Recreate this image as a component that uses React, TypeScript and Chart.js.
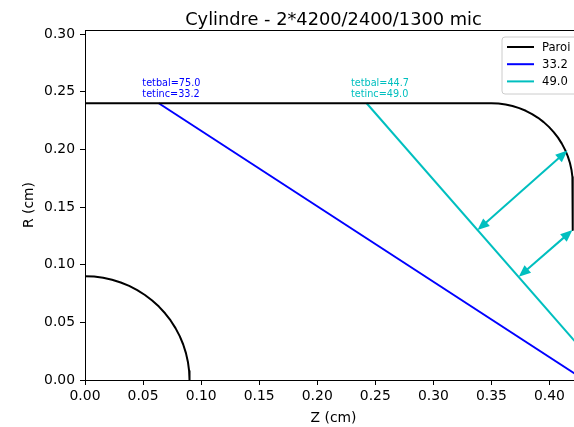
import React, { useEffect, useRef } from "react";
import { Chart, registerables } from "chart.js";

Chart.register(...registerables);

const TITLE = "Cylindre - 2*4200/2400/1300 mic";
const X_LABEL = "Z (cm)";
const Y_LABEL = "R (cm)";
const X_MIN = 0;
const X_MAX = 0.4211;
const Y_MIN = 0;
const Y_MAX = 0.3035;
const TICK_STEP = 0.05;

const seriesNames = ["Paroi", "33.2", "49.0"];
const seriesColors = ["#000000", "#0000ff", "#00bfbf"];

// Outer wall (Paroi): flat top, rounded corner, end face
const wallZ = [
  0, 0.35, 0.3561, 0.36216, 0.36812, 0.37394, 0.37958, 0.385, 0.39015, 0.395, 0.3995,
  0.40362, 0.40734, 0.41062, 0.41344, 0.41578, 0.41762, 0.41894, 0.41973, 0.42, 0.42,
];
const wallR = [
  0.24, 0.24, 0.23973, 0.23894, 0.23762, 0.23578, 0.23344, 0.23062, 0.22734, 0.22362, 0.2195,
  0.215, 0.21015, 0.205, 0.19958, 0.19394, 0.18812, 0.18216, 0.1761, 0.17, 0.13,
];

// Inner quarter circle (Paroi)
const innerZ = [
  0, 0.00784, 0.01563, 0.02329, 0.03078, 0.03804, 0.045, 0.05162, 0.05785, 0.06364,
  0.06894, 0.07372, 0.07794, 0.08157, 0.08457, 0.08693, 0.08863, 0.08966, 0.09,
];
const innerR = [
  0.09, 0.08966, 0.08863, 0.08693, 0.08457, 0.08157, 0.07794, 0.07372, 0.06894, 0.06364,
  0.05785, 0.05162, 0.045, 0.03804, 0.03078, 0.02329, 0.01563, 0.00784, 0,
];

// Ray 33.2
const ray1Z = [0.0635, 0.4302];
const ray1R = [0.24, 0];

// Ray 49.0
const ray2Z = [0.2425, 0.4511];
const ray2R = [0.24, 0];

// Double-headed arrows (cyan)
const arrowStartZ = [0.338, 0.3735];
const arrowStartR = [0.13, 0.0895];
const arrowEndZ = [0.4155, 0.4198];
const arrowEndR = [0.199, 0.13];

// Annotations
const noteZ = [0.0494, 0.229];
const noteR = [0.2454, 0.2454];
const noteLines = [
  ["tetbal=75.0", "tetinc=33.2"],
  ["tetbal=44.7", "tetinc=49.0"],
];
const noteColors = ["#0000ff", "#00bfbf"];

const FONT = "'DejaVu Sans', sans-serif";

function pts(zs: number[], rs: number[]) {
  return zs.map((z, i) => ({ x: z, y: rs[i] }));
}

const overlayPlugin = {
  id: "overlay",
  afterDraw(chart: any) {
    const ctx = chart.ctx as CanvasRenderingContext2D;
    const xs = chart.scales.x;
    const ys = chart.scales.y;
    const area = chart.chartArea;
    ctx.save();

    // top spine
    ctx.strokeStyle = "#000";
    ctx.lineWidth = 1;
    ctx.beginPath();
    ctx.moveTo(area.left, area.top + 0.5);
    ctx.lineTo(area.right, area.top + 0.5);
    ctx.stroke();

    // arrows
    ctx.save();
    ctx.beginPath();
    ctx.rect(area.left, area.top, area.right - area.left + 2, area.bottom - area.top);
    ctx.clip();
    ctx.strokeStyle = seriesColors[2];
    ctx.fillStyle = seriesColors[2];
    ctx.lineWidth = 2;
    for (let i = 0; i < arrowStartZ.length; i++) {
      const x1 = xs.getPixelForValue(arrowStartZ[i]);
      const y1 = ys.getPixelForValue(arrowStartR[i]);
      const x2 = xs.getPixelForValue(arrowEndZ[i]);
      const y2 = ys.getPixelForValue(arrowEndR[i]);
      const dx = x2 - x1;
      const dy = y2 - y1;
      const len = Math.hypot(dx, dy);
      const ux = dx / len;
      const uy = dy / len;
      const hl = 12;
      const hw = 5;
      ctx.beginPath();
      ctx.moveTo(x1 + ux * hl * 0.8, y1 + uy * hl * 0.8);
      ctx.lineTo(x2 - ux * hl * 0.8, y2 - uy * hl * 0.8);
      ctx.stroke();
      const head = (tx: number, ty: number, dxn: number, dyn: number) => {
        const bx = tx - dxn * hl;
        const by = ty - dyn * hl;
        ctx.beginPath();
        ctx.moveTo(tx, ty);
        ctx.lineTo(bx - dyn * hw, by + dxn * hw);
        ctx.lineTo(bx + dyn * hw, by - dxn * hw);
        ctx.closePath();
        ctx.fill();
      };
      head(x2, y2, ux, uy);
      head(x1, y1, -ux, -uy);
    }
    ctx.restore();

    // annotations
    ctx.font = `9.7px ${FONT}`;
    ctx.textAlign = "left";
    ctx.textBaseline = "alphabetic";
    for (let i = 0; i < noteZ.length; i++) {
      const px = xs.getPixelForValue(noteZ[i]);
      const py = ys.getPixelForValue(noteR[i]);
      ctx.fillStyle = noteColors[i];
      const lines = noteLines[i];
      for (let j = 0; j < lines.length; j++) {
        ctx.fillText(lines[j], px, py - (lines.length - 1 - j) * 11.3);
      }
    }

    // title
    const cx = 333.5;
    ctx.fillStyle = "#000";
    ctx.font = `17.8px ${FONT}`;
    ctx.textAlign = "center";
    ctx.textBaseline = "alphabetic";
    ctx.fillText(TITLE, cx, 25);

    // axis titles
    ctx.font = `13.9px ${FONT}`;
    ctx.fillText(X_LABEL, cx, 422);
    ctx.save();
    ctx.translate(33, area.top + (area.bottom - area.top) / 2);
    ctx.rotate(-Math.PI / 2);
    ctx.fillText(Y_LABEL, 0, 0);
    ctx.restore();

    // legend
    const lx = 502;
    const ly = 37;
    const lw = 90;
    const lh = 57;
    const r = 3;
    ctx.beginPath();
    ctx.moveTo(lx + r, ly);
    ctx.lineTo(lx + lw - r, ly);
    ctx.arcTo(lx + lw, ly, lx + lw, ly + r, r);
    ctx.lineTo(lx + lw, ly + lh - r);
    ctx.arcTo(lx + lw, ly + lh, lx + lw - r, ly + lh, r);
    ctx.lineTo(lx + r, ly + lh);
    ctx.arcTo(lx, ly + lh, lx, ly + lh - r, r);
    ctx.lineTo(lx, ly + r);
    ctx.arcTo(lx, ly, lx + r, ly, r);
    ctx.closePath();
    ctx.fillStyle = "rgba(255,255,255,0.8)";
    ctx.fill();
    ctx.strokeStyle = "#cccccc";
    ctx.lineWidth = 1;
    ctx.stroke();
    ctx.font = `11.6px ${FONT}`;
    ctx.textAlign = "left";
    ctx.textBaseline = "middle";
    for (let i = 0; i < seriesNames.length; i++) {
      const y = ly + 10 + i * 17.2;
      ctx.strokeStyle = seriesColors[i];
      ctx.lineWidth = 2;
      ctx.beginPath();
      ctx.moveTo(lx + 5, y);
      ctx.lineTo(lx + 32, y);
      ctx.stroke();
      ctx.fillStyle = "#000";
      ctx.fillText(seriesNames[i], lx + 40, y + 0.5);
    }
    ctx.restore();
  },
};

export default function App() {
  const canvasRef = useRef<HTMLCanvasElement | null>(null);

  useEffect(() => {
    document.body.style.margin = "0";
    const canvas = canvasRef.current;
    if (!canvas) return;
    const lineDs = (label: string, data: any[], color: string) => ({
      label,
      data,
      showLine: true,
      borderColor: color,
      backgroundColor: color,
      borderWidth: 2,
      borderJoinStyle: "round" as const,
      borderCapStyle: "butt" as const,
      pointRadius: 0,
      pointHoverRadius: 0,
      fill: false,
      tension: 0,
    });
    const tickFont = { family: FONT, size: 13.9 };
    const chart = new Chart(canvas, {
      type: "scatter",
      data: {
        datasets: [
          lineDs(seriesNames[0], pts(wallZ, wallR), seriesColors[0]),
          lineDs(seriesNames[0] + " inner", pts(innerZ, innerR), seriesColors[0]),
          lineDs(seriesNames[1], pts(ray1Z, ray1R), seriesColors[1]),
          lineDs(seriesNames[2], pts(ray2Z, ray2R), seriesColors[2]),
        ],
      },
      options: {
        animation: false,
        responsive: false,
        devicePixelRatio: 1,
        events: [],
        layout: { padding: { top: 30, right: 0, left: 0, bottom: 0 } },
        plugins: {
          legend: { display: false },
          title: { display: false },
          tooltip: { enabled: false },
        },
        scales: {
          x: {
            type: "linear",
            min: X_MIN,
            max: X_MAX,
            afterFit: (s: any) => {
              s.height = 47;
            },
            ticks: {
              stepSize: TICK_STEP,
              includeBounds: false,
              color: "#000",
              font: tickFont,
              padding: 3,
              maxRotation: 0,
              callback: (v: any) => Number(v).toFixed(2),
            },
            grid: {
              drawOnChartArea: false,
              drawTicks: true,
              tickLength: 5,
              color: "#000",
            },
            border: { display: true, color: "#000", width: 1 },
          },
          y: {
            type: "linear",
            min: Y_MIN,
            max: Y_MAX,
            afterFit: (s: any) => {
              s.width = 85;
            },
            ticks: {
              stepSize: TICK_STEP,
              includeBounds: false,
              color: "#000",
              font: tickFont,
              padding: 5,
              callback: (v: any) => Number(v).toFixed(2),
            },
            grid: {
              drawOnChartArea: false,
              drawTicks: true,
              tickLength: 5,
              color: "#000",
            },
            border: { display: true, color: "#000", width: 1 },
          },
        },
      },
      plugins: [overlayPlugin],
    });
    return () => chart.destroy();
  }, []);

  return (
    <div style={{ width: 574, height: 427, overflow: "hidden", background: "#fff" }}>
      <canvas ref={canvasRef} width={574} height={427} style={{ display: "block" }} />
    </div>
  );
}
